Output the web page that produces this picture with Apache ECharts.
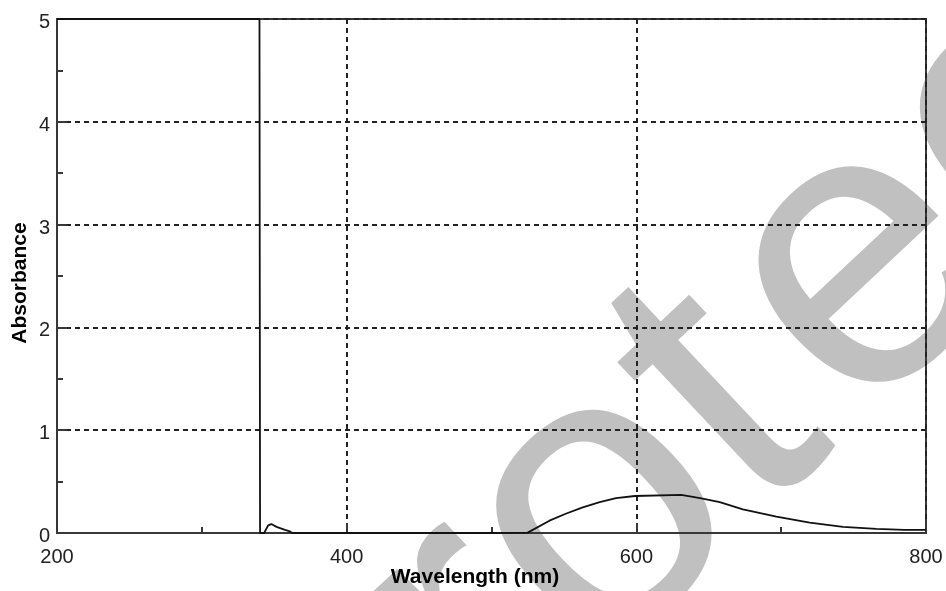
<!DOCTYPE html>
<html>
<head>
<meta charset="utf-8">
<script src="https://cdn.jsdelivr.net/npm/echarts@6/dist/echarts.min.js"></script>
<style>
html,body{margin:0;padding:0;background:#fff;}
#chart{width:946px;height:591px;}
</style>
</head>
<body>
<div id="chart"></div>
<script>
var wavelength = [200, 339.8, 340.2, 343, 345.8, 348, 351.6, 357.4, 360.8, 362.5, 400, 500, 525, 540, 551.7, 563, 574.7, 586, 599, 631, 644, 657.6, 673.6, 696.7, 719.7, 742.7, 765.7, 785, 800];
var absorbance = [5, 5, 0, 0, 0.074, 0.087, 0.06, 0.03, 0.015, 0, 0, 0, 0.004, 0.12, 0.19, 0.25, 0.30, 0.34, 0.36, 0.37, 0.34, 0.30, 0.23, 0.16, 0.10, 0.06, 0.04, 0.03, 0.03];
var xTicks = [200, 400, 600, 800];
var yTicks = [0, 1, 2, 3, 4, 5];
var xTitle = 'Wavelength (nm)';
var yTitle = 'Absorbance';
var watermarkParts = ['Pro', 't', 'ected'];

var points = wavelength.map(function (w, i) { return [w, absorbance[i]]; });

var chart = echarts.init(document.getElementById('chart'), null, {renderer: 'canvas'});
var FONT = '"Liberation Sans", Arial, sans-serif';
var rot = 0.754;
function wm(text, x, y, align) {
  return {
    type: 'text', x: x, y: y, rotation: rot, z: -10, silent: true,
    style: {
      text: text,
      fill: '#c0c0c0',
      fontSize: 400,
      fontFamily: FONT,
      fontWeight: 'normal',
      textAlign: align, align: align,
      textVerticalAlign: 'middle', verticalAlign: 'middle'
    }
  };
}
chart.setOption({
  animation: false,
  backgroundColor: '#ffffff',
  graphic: {
    elements: [
      wm(watermarkParts[0], 682, 440, 'right'),
      wm(watermarkParts[1], 682, 440, 'left'),
      wm(watermarkParts[2], 781, 347, 'left')
    ]
  },
  grid: {
    left: 57, right: 20, top: 19, bottom: 58,
    containLabel: false, outerBoundsMode: 'none',
    show: true, borderColor: '#383838', borderWidth: 2, backgroundColor: 'transparent'
  },
  xAxis: {
    type: 'value',
    min: xTicks[0], max: xTicks[xTicks.length - 1], interval: xTicks[1] - xTicks[0],
    name: xTitle, nameLocation: 'middle', nameGap: 34, nameMoveOverlap: false,
    nameTextStyle: {fontFamily: FONT, fontWeight: 'bold', fontSize: 21, color: '#000', padding: [0, 33, 0, 0]},
    axisLine: {show: true, lineStyle: {color: '#383838', width: 2}},
    axisTick: {show: true, inside: true, length: 10, lineStyle: {color: '#383838', width: 2}},
    minorTick: {show: true, splitNumber: 2, length: 6, lineStyle: {color: '#383838', width: 2}},
    axisLabel: {fontFamily: FONT, fontSize: 20, color: '#222', margin: 14},
    splitLine: {show: true, lineStyle: {color: '#222', width: 2, type: [5, 4]}}
  },
  yAxis: {
    type: 'value',
    min: yTicks[0], max: yTicks[yTicks.length - 1], interval: yTicks[1] - yTicks[0],
    name: yTitle, nameLocation: 'middle', nameGap: 26, nameMoveOverlap: false,
    nameTextStyle: {fontFamily: FONT, fontWeight: 'bold', fontSize: 21, color: '#000', padding: [0, 14, 0, 0]},
    axisLine: {show: true, lineStyle: {color: '#383838', width: 2}},
    axisTick: {show: true, inside: true, length: 10, lineStyle: {color: '#383838', width: 2}},
    minorTick: {show: true, splitNumber: 2, length: 6, lineStyle: {color: '#383838', width: 2}},
    axisLabel: {fontFamily: FONT, fontSize: 20, color: '#222', margin: 7, verticalAlign: 'top', lineHeight: 7},
    splitLine: {show: true, lineStyle: {color: '#222', width: 2, type: [5, 4]}}
  },
  series: [{
    type: 'line',
    data: points,
    showSymbol: false,
    symbol: 'none',
    clip: true,
    lineStyle: {color: '#111', width: 1.8},
    z: 3
  }]
});
</script>
</body>
</html>
